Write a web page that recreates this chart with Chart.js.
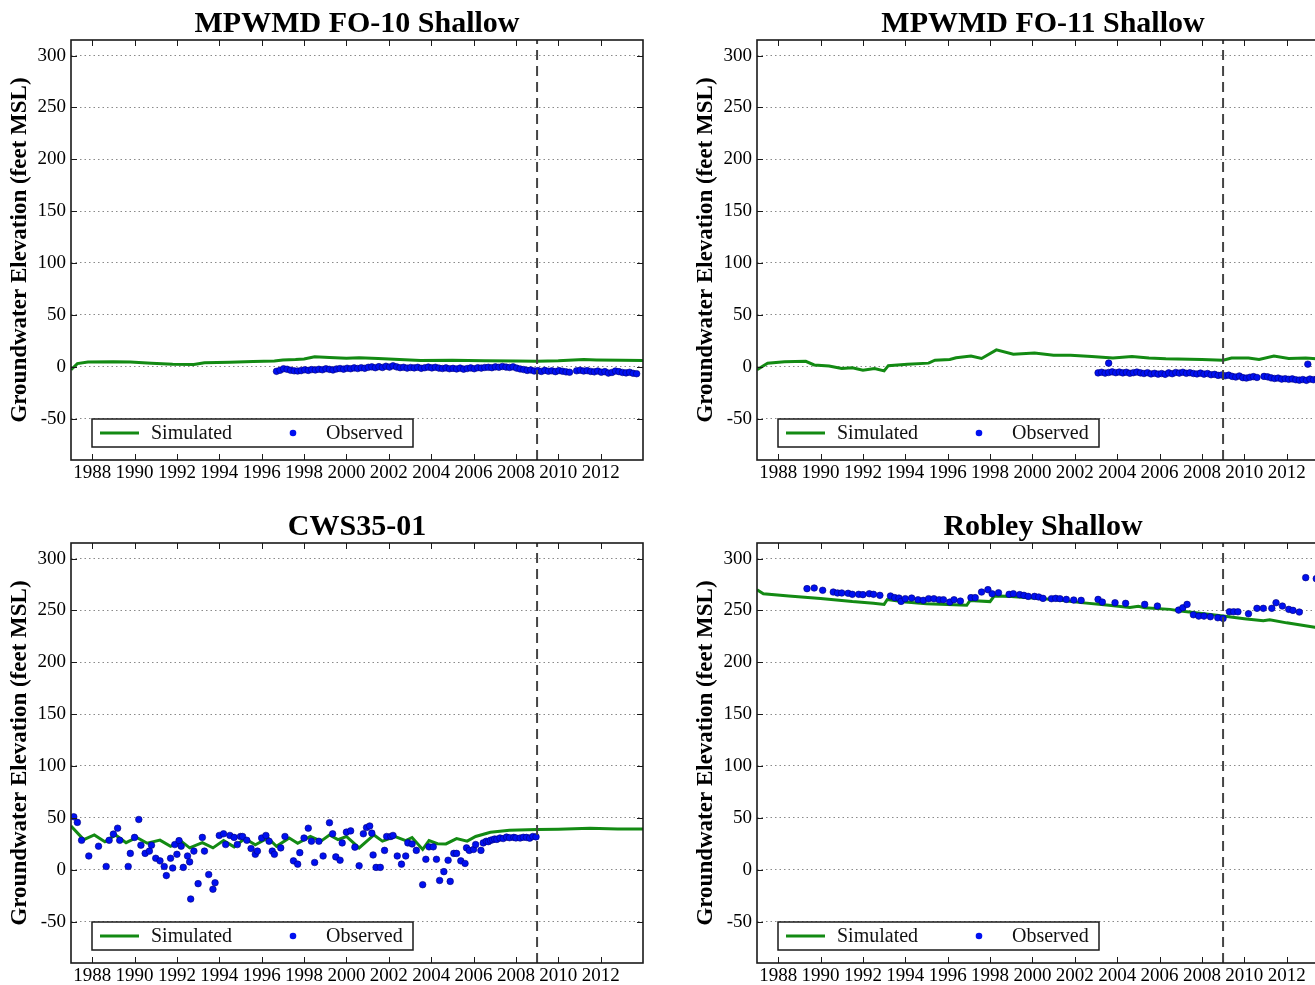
<!DOCTYPE html>
<html>
<head>
<meta charset="utf-8">
<script src="https://cdn.jsdelivr.net/npm/chart.js@4.4.0/dist/chart.umd.min.js"></script>
<style>
html, body { margin: 0; padding: 0; background: #fff; width: 1315px; height: 985px; overflow: hidden; }
canvas { position: absolute; }
</style>
</head>
<body>
<canvas id="fo10" width="660" height="490" style="left:0px;top:0px"></canvas>
<canvas id="fo11" width="660" height="490" style="left:686px;top:0px"></canvas>
<canvas id="cws" width="660" height="490" style="left:0px;top:503px"></canvas>
<canvas id="robley" width="660" height="490" style="left:686px;top:503px"></canvas>
<script>
// axes
const yearTicks = [1988, 1990, 1992, 1994, 1996, 1998, 2000, 2002, 2004, 2006, 2008, 2010, 2012];
const elevTicks = [-50, 0, 50, 100, 150, 200, 250, 300];
const yearMin = 1987, yearMax = 2014;
const elevMin = -90, elevMax = 315;
const calibrationEnd = 2009;

// MPWMD FO-10 Shallow
const fo10SimYears = [1987.0, 1987.3, 1987.8, 1989.0, 1989.8, 1990.8, 1991.8, 1992.8, 1993.3, 1994.5, 1995.6, 1996.6, 1997.0, 1997.6, 1998.0, 1998.5, 1999.2, 2000.0, 2000.6, 2001.5, 2002.5, 2003.5, 2005.0, 2006.5, 2008.0, 2009.0, 2010.0, 2011.2, 2011.8, 2013.0, 2014.0];
const fo10SimValues = [-3, 3, 4.5, 4.8, 4.5, 3.2, 2.3, 2.2, 3.8, 4.2, 5, 5.5, 6.5, 6.8, 7.5, 9.5, 8.8, 8.2, 8.5, 7.8, 6.8, 6, 6.3, 5.8, 5.5, 5.2, 5.6, 6.8, 6.5, 6.2, 6];
// observed roughly every two months from mid 1996
const fo10ObsStart = 1996.7;
const fo10ObsValues = [
  -4.5, -3.5, -2, -2.5, -3.5, -4,
  -4.2, -3.8, -3, -3.6, -2.8, -3.2,
  -2.5, -3, -2, -2.6, -3.2, -2.2,
  -1.8, -2.4, -1.5, -2, -1.2, -1.8,
  -1, -1.6, -0.6, -0.2, -1, 0,
  -0.8, 0.4, -0.4, 0.8, -0.2, -1,
  -0.6, -1.4, -0.8, -1.2, -0.6, -1.6,
  -1, -0.4, -1.2, -0.6, -1.4, -1.8,
  -1.2, -2, -1.6, -2.2, -1.4, -2.4,
  -1.8, -1.2, -2, -1, -1.4, -0.8,
  -0.6, -1, -0.2, -0.6, 0.2, -0.4,
  -0.8, -0.2, -1.4, -2.2, -2.8, -3.6,
  -3.2, -4.2, -3.8, -4.6, -3.6, -4.4,
  -4, -4.8, -3.8, -4.4, -5, -5.4,
  null, -4, -3.4, -4.2, -3.8, -4.6,
  -5, -4.2, -5.4, -4.8, -6.2, -5.6,
  -4.2, -4.8, -5.6, -6, -5.4, -6.4, -6.8
];

// MPWMD FO-11 Shallow
const fo11SimYears = [1987.0, 1987.5, 1988.3, 1989.3, 1989.7, 1990.4, 1991.0, 1991.5, 1992.0, 1992.55, 1993.0, 1993.2, 1994.1, 1995.1, 1995.4, 1996.1, 1996.4, 1997.1, 1997.6, 1998.3, 1999.1, 2000.1, 2001.0, 2001.8, 2002.8, 2003.8, 2004.7, 2005.5, 2006.3, 2008.0, 2009.0, 2009.4, 2010.2, 2010.7, 2011.4, 2012.1, 2012.9, 2013.4, 2014.0];
const fo11SimValues = [-3, 3.4, 4.8, 5.2, 1.7, 0.7, -1.7, -1, -3.4, -1.7, -4.1, 1, 2.4, 3.4, 6.2, 6.9, 8.6, 10.3, 7.9, 16.2, 12, 13.1, 11, 11, 9.7, 8.3, 9.7, 8.3, 7.6, 6.9, 6.2, 8.3, 8.3, 6.9, 10.3, 7.9, 8.3, 7.6, 8];
const fo11ObsStart = 2003.1;
const fo11ObsValues = [
  -6, -5.4, -6.2, -5.6, -5, -5.8,
  -5.2, -6, -5.4, -6.4, -5.8, -5.2,
  -6, -6.6, -5.8, -7, -6.4, -7.2,
  -6.6, -7.4, -6, -6.8, -5.6, -6.2,
  -5.4, -6.4, -5.8, -6.6, -7, -6.2,
  -7.2, -6.6, -7.8, -7.4, -8.4, -8,
  -8.8, -8.2, -9.4, -10, -9, -10.6,
  -11, -10.2, -9.6, -10.4, null, -9.4,
  -9.8, -10.8, -11.4, -11, -12, -11.6,
  -12.2, -11.8, -12.6, -13, -12.4, -13.2,
  -12, -12.6, -11.8, -12.4, -13
];
const fo11OutlierYears = [2003.6, 2013.0];
const fo11OutlierValues = [3.4, 2.4];

// CWS35-01
const cwsSimYears = [1987.0, 1987.6, 1988.1, 1988.6, 1989.1, 1989.6, 1990.1, 1990.6, 1991.2, 1991.7, 1992.2, 1992.6, 1993.2, 1993.7, 1994.2, 1994.7, 1995.2, 1995.7, 1996.3, 1996.7, 1997.3, 1997.7, 1998.3, 1998.8, 1999.2, 1999.6, 2000.0, 2000.6, 2001.3, 2001.7, 2002.3, 2002.8, 2003.1, 2003.6, 2003.9, 2004.3, 2004.7, 2005.2, 2005.7, 2006.1, 2006.8, 2007.7, 2009.0, 2010.0, 2011.5, 2012.8, 2014.0];
const cwsSimValues = [42, 29, 33.5, 27, 33.5, 26, 31, 25.5, 28.5, 22.5, 27.5, 21, 26, 21, 28, 22, 30, 24, 30.5, 22.5, 30.5, 25.5, 32, 27.5, 33.5, 29, 32, 21, 33.5, 27.5, 32, 28, 31, 19.5, 28, 25, 24.8, 30, 27.5, 32, 36, 38, 38.7, 39, 40, 39.3, 39.3];
const cwsObsYears = [
  1987.13, 1987.3, 1987.5, 1987.84, 1988.3, 1988.66, 1988.8,
  1989.0, 1989.2, 1989.3, 1989.7, 1989.8, 1990.0, 1990.2, 1990.3, 1990.5, 1990.7, 1990.8,
  1991.0, 1991.2, 1991.4, 1991.5, 1991.7, 1991.8, 1991.9,
  1992.0, 1992.1, 1992.2, 1992.3, 1992.5, 1992.6, 1992.65, 1992.8,
  1993.0, 1993.2, 1993.3, 1993.5, 1993.7, 1993.8,
  1994.0, 1994.2, 1994.3, 1994.5, 1994.7, 1994.85,
  1995.0, 1995.1, 1995.3, 1995.5, 1995.7, 1995.8,
  1996.0, 1996.2, 1996.35, 1996.5, 1996.6, 1996.9,
  1997.1, 1997.5, 1997.7, 1997.8,
  1998.0, 1998.2, 1998.35, 1998.5, 1998.7, 1998.9,
  1999.2, 1999.35, 1999.5, 1999.7, 1999.8,
  2000.0, 2000.2, 2000.4, 2000.6, 2000.8, 2000.95,
  2001.1, 2001.2, 2001.26, 2001.4, 2001.6, 2001.8, 2001.9,
  2002.1, 2002.2, 2002.4, 2002.6, 2002.8, 2002.9,
  2003.1, 2003.3, 2003.6, 2003.75, 2003.9,
  2004.1, 2004.25, 2004.4, 2004.6, 2004.8, 2004.9,
  2005.07, 2005.2, 2005.4, 2005.6, 2005.67, 2005.8,
  2006.0, 2006.1, 2006.35, 2006.46, 2006.6, 2006.7, 2006.8, 2006.9,
  2007.0, 2007.1, 2007.25, 2007.4, 2007.56, 2007.7, 2007.9,
  2008.0, 2008.2, 2008.35, 2008.5, 2008.65, 2008.8, 2008.95
];
const cwsObsValues = [
  51, 45.6, 28.3, 13.2, 22.6, 3.1, 28.3,
  34.3, 40, 28.3, 3.1, 15.7, 31.1, 48.4, 23.6, 15.7, 17.9, 23.6,
  11, 8.5, 3.1, -5.7, 11, 1.6, 24.2,
  14.8, 28, 22.6, 2.2, 13.2, 7.5, -28.3, 17.9,
  -13.5, 31.1, 17.9, -4.7, -18.9, -12.6,
  33, 34.6, 24.2, 33, 31.1, 24.2,
  32, 32, 28.3, 20.4, 14.8, 17.9,
  30.5, 33, 27.4, 17.9, 14.8, 21,
  32, 8.5, 5.3, 16.4,
  30.5, 40, 27.4, 6.9, 27.4, 13.2,
  45.3, 34.6, 12.3, 9.1, 25.8,
  36.2, 37.4, 21.7, 3.8, 34.6, 40.6,
  42.1, 35.2, 14.2, 2.2, 2.2, 18.6, 32,
  32, 33, 13.2, 5.3, 13.2, 25.8,
  24.8, 18.6, -14.5, 10, 22,
  22, 10, -10.4, -1.9, 9.1, -11.3,
  15.7, 15.7, 8.5, 6, 21, 18.6,
  19.5, 24.2, 18.6, 25.8, 27.4, 27, 28.3, 28.8,
  29.6, 29.2, 30.5, 30, 31.4, 30.8, 31.1,
  30.6, 30.5, 31.2, 31.1, 30.4, 32, 31.6
];

// Robley Shallow
const robleySimYears = [1987.0, 1987.3, 1988.5, 1990.0, 1991.5, 1992.5, 1993.0, 1993.15, 1994.0, 1995.0, 1996.0, 1996.9, 1997.05, 1998.0, 1998.2, 1999.0, 2000.0, 2001.0, 2002.3, 2003.5, 2004.6, 2005.0, 2005.3, 2006.5, 2007.0, 2008.0, 2009.0, 2010.0, 2010.9, 2011.2, 2012.0, 2013.4, 2014.0];
const robleySimValues = [270, 266, 264, 261.5, 258.5, 257, 255.8, 260.5, 258, 256.5, 255.8, 255, 259.5, 258.5, 264, 263.5, 262, 260.5, 257.5, 255.2, 252.8, 254, 252.5, 251, 249.5, 247, 244.5, 242, 240, 241, 238, 233.5, 232];
const robleyObsYears = [
  1989.36, 1989.7, 1990.1, 1990.6, 1990.8, 1991.0, 1991.3, 1991.5, 1991.8, 1992.0, 1992.3, 1992.5, 1992.8,
  1993.3, 1993.5, 1993.7, 1993.8, 1994.0, 1994.3, 1994.6, 1994.85, 1995.1, 1995.35, 1995.6, 1995.8,
  1996.1, 1996.3, 1996.6, 1997.1, 1997.3, 1997.6, 1997.9, 1998.1, 1998.4, 1998.9, 1999.1, 1999.4, 1999.6, 1999.8,
  2000.1, 2000.3, 2000.5, 2000.9, 2001.1, 2001.3, 2001.6, 2001.95, 2002.3, 2003.1, 2003.3, 2003.9, 2004.4,
  2005.3, 2005.9, 2006.9, 2007.1, 2007.3, 2007.6, 2007.85, 2008.1, 2008.4, 2008.75, 2009.0,
  2009.3, 2009.5, 2009.7, 2010.2, 2010.6, 2010.9, 2011.3, 2011.5, 2011.8, 2012.1, 2012.3, 2012.6, 2012.9, 2013.4
];
const robleyObsValues = [
  271, 271.6, 269.4, 267.7, 266.8, 266.8, 266.5, 265.5, 265.5, 265.2, 266.1, 265.5, 264.5,
  263.9, 262.3, 261.9, 258.7, 261.3, 261.9, 260.3, 259.7, 261.3, 261.3, 260.3, 260.3,
  258, 260.3, 259, 262.3, 262.3, 267.7, 270, 266, 267, 265.5, 266.1, 265.2, 264.5, 263.5,
  263.5, 262.9, 261.6, 261.3, 261.6, 261.3, 260.6, 260, 259.7, 260.6, 258, 257.4, 256.8,
  255.8, 254.2, 250.3, 252.6, 255.8, 245.8, 244.5, 244.5, 243.9, 242.9, 242.3,
  248.7, 248.7, 248.7, 246.8, 252, 252, 252, 257.4, 254.2, 251, 250, 248.4, 281.6, 280.6
];

const serif = "'Liberation Serif', 'DejaVu Serif', serif";
const simColor = "#138a13";
const obsColor = "#0010f0";

function pairs(xs, ys) {
    return xs.map((x, i) => ({ x: x, y: ys[i] }));
}
// observations logged every two months
function bimonthly(start, ys) {
    return ys.map((y, i) => ({ x: start + i / 6, y: y }));
}

// matplotlib-like frame, inward ticks, title over the plot box and the legend box
const axesFrame = {
    id: "axesFrame",
    afterDatasetsDraw(chart, args, opts) {
        const { ctx, chartArea: a, scales: { x, y } } = chart;
        ctx.save();
        ctx.strokeStyle = "#1a1a1a";
        ctx.lineWidth = 1;
        ctx.beginPath();
        x.ticks.forEach(t => {
            const px = Math.round(x.getPixelForValue(t.value)) + 0.5;
            ctx.moveTo(px, a.bottom); ctx.lineTo(px, a.bottom - 6);
            ctx.moveTo(px, a.top); ctx.lineTo(px, a.top + 6);
        });
        y.ticks.forEach(t => {
            const py = Math.round(y.getPixelForValue(t.value)) + 0.5;
            ctx.moveTo(a.left, py); ctx.lineTo(a.left + 6, py);
            ctx.moveTo(a.right, py); ctx.lineTo(a.right - 6, py);
        });
        ctx.stroke();
        ctx.lineWidth = 1.6;
        ctx.strokeRect(a.left, a.top, a.right - a.left, a.bottom - a.top);

        ctx.fillStyle = "#000";
        ctx.font = "bold 30px " + serif;
        ctx.textAlign = "center";
        ctx.textBaseline = "alphabetic";
        ctx.fillText(opts.title, (a.left + a.right) / 2, a.top - 8);

        const sim = chart.data.datasets.find(d => d.label === "Simulated");
        const obs = chart.data.datasets.find(d => d.label === "Observed");
        const bx = a.left + 21, by = a.bottom - 41, midY = by + 14;
        ctx.fillStyle = "#fff";
        ctx.fillRect(bx, by, 321, 28);
        ctx.lineWidth = 1.5;
        ctx.strokeStyle = "#1a1a1a";
        ctx.strokeRect(bx, by, 321, 28);
        ctx.strokeStyle = sim.borderColor;
        ctx.lineWidth = sim.borderWidth;
        ctx.beginPath();
        ctx.moveTo(bx + 8, midY); ctx.lineTo(bx + 47, midY);
        ctx.stroke();
        ctx.fillStyle = obs.backgroundColor;
        ctx.beginPath();
        ctx.arc(bx + 201, midY, obs.pointRadius, 0, Math.PI * 2);
        ctx.fill();
        ctx.fillStyle = "#111";
        ctx.font = "20px " + serif;
        ctx.textAlign = "left";
        ctx.textBaseline = "middle";
        ctx.fillText(sim.label, bx + 59, midY + 1);
        ctx.fillText(obs.label, bx + 234, midY + 1);
        ctx.restore();
    }
};

function drawPanel(id, title, simulated, observed) {
    new Chart(document.getElementById(id), {
        type: "scatter",
        data: {
            datasets: [
                { label: "Calibration", data: [{ x: calibrationEnd, y: elevMin }, { x: calibrationEnd, y: elevMax }],
                  showLine: true, pointRadius: 0, borderColor: "#444", borderWidth: 2, borderDash: [10, 6], order: 0 },
                { label: "Observed", data: observed, pointRadius: 3.3, backgroundColor: obsColor,
                  borderColor: "#00007a", borderWidth: 0.6, order: 1 },
                { label: "Simulated", data: simulated, showLine: true, pointRadius: 0,
                  borderColor: simColor, borderWidth: 3, order: 2 }
            ]
        },
        options: {
            responsive: false,
            animation: false,
            devicePixelRatio: 1,
            layout: { padding: { left: 0, right: 17, top: 40, bottom: 0 } },
            plugins: {
                legend: { display: false },
                tooltip: { enabled: false },
                axesFrame: { title: title }
            },
            scales: {
                x: {
                    type: "linear", min: yearMin, max: yearMax,
                    afterBuildTicks: s => { s.ticks = yearTicks.map(v => ({ value: v })); },
                    afterFit: s => { s.height = 30; },
                    grid: { display: false, drawTicks: false },
                    border: { display: false },
                    ticks: { color: "#000", font: { family: serif, size: 19 }, padding: 2,
                             maxRotation: 0, autoSkip: false, callback: v => String(v) }
                },
                y: {
                    type: "linear", min: elevMin, max: elevMax,
                    afterBuildTicks: s => { s.ticks = elevTicks.map(v => ({ value: v })); },
                    afterFit: s => { s.width = 71; },
                    grid: { color: "#8a8a8a", lineWidth: 1, drawTicks: false },
                    border: { display: false, dash: [1.5, 3] },
                    ticks: { color: "#000", font: { family: serif, size: 19 }, padding: 5 },
                    title: { display: true, text: "Groundwater Elevation (feet MSL)", color: "#000",
                             font: { family: serif, size: 23, weight: "bold" }, padding: { top: 6, bottom: 0 } }
                }
            }
        },
        plugins: [axesFrame]
    });
}

drawPanel("fo10", "MPWMD FO-10 Shallow",
    pairs(fo10SimYears, fo10SimValues), bimonthly(fo10ObsStart, fo10ObsValues));
drawPanel("fo11", "MPWMD FO-11 Shallow",
    pairs(fo11SimYears, fo11SimValues),
    bimonthly(fo11ObsStart, fo11ObsValues).concat(pairs(fo11OutlierYears, fo11OutlierValues)));
drawPanel("cws", "CWS35-01", pairs(cwsSimYears, cwsSimValues), pairs(cwsObsYears, cwsObsValues));
drawPanel("robley", "Robley Shallow", pairs(robleySimYears, robleySimValues), pairs(robleyObsYears, robleyObsValues));
</script>
</body>
</html>
